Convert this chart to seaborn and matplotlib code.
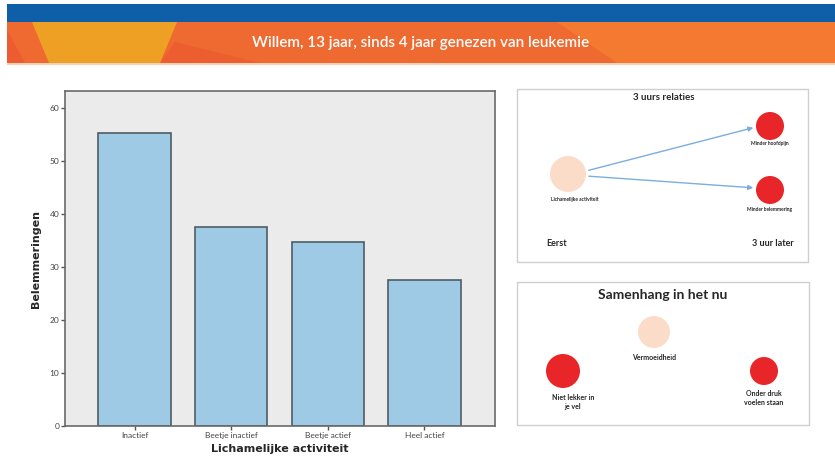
import matplotlib
matplotlib.use("Agg")
import matplotlib.pyplot as plt
import seaborn as sns
from matplotlib.patches import Rectangle, Polygon, Circle, FancyArrowPatch

# data
categories = ["Inactief", "Beetje inactief", "Beetje actief", "Heel actief"]
belemmeringen = [55.2, 37.5, 34.8, 27.5]
y_ticks = [0, 10, 20, 30, 40, 50, 60]
title = "Willem, 13 jaar, sinds 4 jaar genezen van leukemie"

sns.set_theme(style="white")
plt.rcParams["font.family"] = ["Lato", "DejaVu Sans"]

W, H = 835, 462
fig = plt.figure(figsize=(W / 100, H / 100), dpi=100)
fig.patch.set_facecolor("white")

# background canvas in pixel coordinates (y down)
bg = fig.add_axes([0, 0, 1, 1], zorder=0)
bg.set_xlim(0, W)
bg.set_ylim(H, 0)
bg.axis("off")

# header
bg.add_patch(Rectangle((7, 4), W - 7, 18, color="#0e5ea8", lw=0))
bg.add_patch(Rectangle((7, 22), W - 7, 41, color="#ef6a30", lw=0))
bg.add_patch(Polygon([(7, 30), (25, 63), (7, 63)], color="#ec5c30", lw=0))
bg.add_patch(Polygon([(160, 63), (175, 42), (260, 63)], color="#ec5d2f", lw=0))
bg.add_patch(Polygon([(557, 22), (835, 22), (835, 63), (617, 63)], color="#f37a30", lw=0))
bg.add_patch(Polygon([(32, 22), (177, 22), (160, 63), (49, 63)], color="#eea024", lw=0))
bg.add_patch(Rectangle((7, 63), W - 7, 2, color="#f8d0b4", lw=0))
bg.text(421, 43, title, color="white", fontsize=11, fontweight="semibold",
        ha="center", va="center")

# right panels
red = "#e8262a"
beige = "#fbdcc9"
bg.add_patch(Rectangle((517, 89), 291, 173, facecolor="white", edgecolor="#cfcfcf", lw=1))
bg.text(664, 98, "3 uurs relaties", fontsize=7, fontweight="bold", ha="center", va="center")
bg.add_patch(Circle((568, 174), 18, color=beige, lw=0))
bg.add_patch(Circle((770, 126), 14, color=red, lw=0))
bg.add_patch(Circle((770, 190), 14, color=red, lw=0))
for p0, p1 in [((586, 171), (756, 127)), ((586, 176), (756, 188))]:
    bg.add_patch(FancyArrowPatch(p0, p1, arrowstyle="-|>", mutation_scale=7,
                                 color="#7aaedc", lw=1))
bg.text(575, 199, "Lichamelijke activiteit", fontsize=3.5, fontweight="bold", ha="center", va="center")
bg.text(770, 144, "Minder hoofdpijn", fontsize=3.5, fontweight="bold", ha="center", va="center")
bg.text(770, 209, "Minder belemmering", fontsize=3.5, fontweight="bold", ha="center", va="center")
bg.text(557, 243, "Eerst", fontsize=6.5, fontweight="bold", ha="center", va="center")
bg.text(773, 243, "3 uur later", fontsize=6.5, fontweight="bold", ha="center", va="center")

bg.add_patch(Rectangle((517, 282), 292, 143, facecolor="white", edgecolor="#cfcfcf", lw=1))
bg.text(663, 295, "Samenhang in het nu", fontsize=10, fontweight="bold", ha="center", va="center")
bg.add_patch(Circle((654, 332), 16, color=beige, lw=0))
bg.add_patch(Circle((563, 371), 17, color=red, lw=0))
bg.add_patch(Circle((764, 371), 14, color=red, lw=0))
bg.text(654, 357, "Vermoeidheid", fontsize=5, fontweight="bold", ha="center", va="center")
bg.text(573, 402, "Niet lekker in\nje vel", fontsize=5, fontweight="bold", ha="center",
        va="center", linespacing=1.4)
bg.text(764, 398, "Onder druk\nvoelen staan", fontsize=5, fontweight="bold", ha="center",
        va="center", linespacing=1.4)

# bar chart
ax = fig.add_axes([65 / W, (H - 426) / H, 430 / W, (426 - 91) / H], zorder=1)
sns.barplot(x=categories, y=belemmeringen, color="#9ecae6", edgecolor="#4f5d63",
            linewidth=1.2, width=0.75, saturation=1, ax=ax)
ax.set_facecolor("#ebebeb")
ax.set_xlim(-0.72, 3.73)
ax.set_ylim(0, 63.2)
ax.set_yticks(y_ticks)
ax.tick_params(axis="both", which="both", direction="out", length=3, width=1,
               color="#555555", labelsize=6, labelcolor="#444444", pad=1,
               left=True, bottom=True)
for s in ax.spines.values():
    s.set_color("#6a6a6a")
    s.set_linewidth(1.2)
ax.set_xlabel("Lichamelijke activiteit", fontsize=8, fontweight="bold",
              family=["DejaVu Sans"], labelpad=4)
ax.set_ylabel("Belemmeringen", fontsize=8, fontweight="bold",
              family=["DejaVu Sans"], labelpad=6)

fig.savefig("out.png", dpi=100)
